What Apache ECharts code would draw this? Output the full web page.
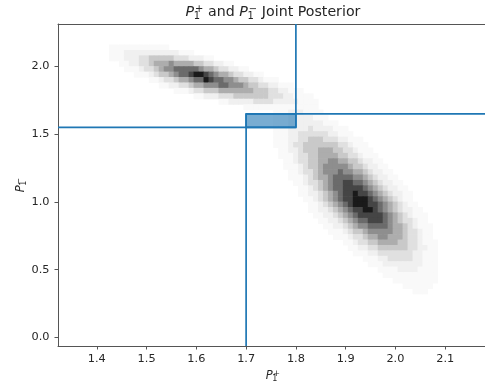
<!DOCTYPE html>
<html><head><meta charset="utf-8">
<script src="https://cdn.jsdelivr.net/npm/echarts@6/dist/echarts.min.js"></script>
<style>html,body{margin:0;padding:0;background:#fff}#c{width:485px;height:390px}</style>
</head><body><div id="c"></div>
<script>
// ---- data ----
const xTicks = [1.4, 1.5, 1.6, 1.7, 1.8, 1.9, 2.0, 2.1];
const yTicks = [0.0, 0.5, 1.0, 1.5, 2.0];
const xRange = [1.322, 2.18];
const yRange = [-0.064, 2.314];
const cutX = [1.7, 1.8];     // vertical cut lines / box x-extent
const cutY = [1.55, 1.65];   // horizontal cut lines / box y-extent
const binW = 0.01, binH = 0.04;
// 2D histogram: each row = bin centre y, first bin centre x, density codes (0..9) per bin
const rowY = [2.14, 2.10, 2.06, 2.02, 1.98, 1.94, 1.90, 1.86, 1.82, 1.78, 1.74, 1.70,
  1.66, 1.62, 1.58, 1.54, 1.50, 1.46, 1.42, 1.38, 1.34, 1.30, 1.26, 1.22, 1.18, 1.14,
  1.10, 1.06, 1.02, 0.98, 0.94, 0.90, 0.86, 0.82, 0.78, 0.74, 0.70, 0.66, 0.62, 0.58,
  0.54, 0.50, 0.46, 0.42, 0.38, 0.34];
const rowX0 = [1.43, 1.43, 1.43, 1.45, 1.46, 1.48, 1.51, 1.53, 1.56, 1.60, 1.65, 1.70,
  1.76, 1.76, 1.76, 1.76, 1.76, 1.76, 1.76, 1.77, 1.77, 1.78, 1.78, 1.79, 1.79, 1.80,
  1.81, 1.81, 1.82, 1.83, 1.83, 1.84, 1.85, 1.86, 1.87, 1.88, 1.90, 1.91, 1.92, 1.94,
  1.95, 1.97, 1.98, 2.00, 2.02, 2.04];
const rowCodes = [
  "111111111111",
  "11122222222222111",
  "111222334444433322211",
  "11223345556555544332211",
  "1112334566777776554332211",
  "11123445677899876554332211",
  "11233455677987766544332111",
  "112233455666776665443322111",
  "11123344455555554443322111",
  "112223334444444333221111",
  "11222223333222221111",
  "111111111111111",
  "1112221111",
  "11122222111",
  "1112222222111",
  "111222232222111",
  "1112233333322111",
  "111223344433322111",
  "1112334444444332111",
  "1122344455544332111",
  "11123344555544332111",
  "11233445566554432211",
  "111234456666654432211",
  "112334566676655432211",
  "1112345567777665432211",
  "1123345677887765432211",
  "1123456778888765432211",
  "11223456788988765432211",
  "1123456788999876543211",
  "1123456789998876543211",
  "11223456788998765432211",
  "11223456788888765432111",
  "1122345677888765433211",
  "1122345667777655432111",
  "111234456666655433211",
  "11123345566555433211",
  "1123344555544332111",
  "112233444444332211",
  "11122333333322111",
  "111223333322111",
  "11122222222111",
  "111122221111",
  "11111111111",
  "111111111",
  "111111",
  "111"
];

// ---- build ----
const cells = [];
rowCodes.forEach((s, r) => {
  for (let i = 0; i < s.length; i++) {
    const c = +s[i];
    if (c > 0) cells.push([+(rowX0[r] + i * binW).toFixed(3), rowY[r], c]);
  }
});
const greys = ['#ffffff', '#f9f9f9', '#f0f0f0', '#e0e0e0', '#c9c9c9', '#adadad', '#8e8e8e', '#6b6b6b', '#454545', '#1a1a1a'];
const blue = '#1f77b4';
const FF = '"DejaVu Sans"';
const txt = '#262626';
const spine = '#555';

const mctx = document.createElement('canvas').getContext('2d');
function tw(t, f) { mctx.font = f; return mctx.measureText(t).width; }
function mathLabel(parts, size, cx, cy, rotation) {
  const sSize = size * 0.7;
  const base = size + 'px ' + FF, ital = 'italic ' + size + 'px ' + FF, sf = sSize + 'px ' + FF;
  let x = 0; const kids = [];
  parts.forEach(p => {
    if (p.sup !== undefined) {
      const w = Math.max(tw(p.sup, sf), tw(p.sub, sf));
      kids.push({ type: 'text', x: x + size * 0.06, y: -size * 0.22, style: { text: p.sup, font: sf, fill: txt, align: 'left', verticalAlign: 'middle' } });
      kids.push({ type: 'text', x: x - size * 0.03, y: size * 0.29, style: { text: p.sub, font: sf, fill: txt, align: 'left', verticalAlign: 'middle' } });
      x += w + size * 0.08;
    } else {
      const f = p.it ? ital : base;
      kids.push({ type: 'text', x: x, y: 0, style: { text: p.t, font: f, fill: txt, align: 'left', verticalAlign: 'middle' } });
      x += tw(p.t, f);
    }
  });
  kids.forEach(k => { k.x -= x / 2; });
  return { type: 'group', x: cx, y: cy, rotation: rotation || 0, children: kids, silent: true };
}

const seg = (a, b) => ({
  type: 'line', data: [a, b], symbol: 'none', silent: true, z: 5,
  lineStyle: { color: blue, width: 1.7 }, clip: true
});

const chart = echarts.init(document.getElementById('c'), null, { renderer: 'canvas' });
chart.setOption({
  animation: false,
  grid: { left: 58, right: 0, top: 24, bottom: 44 },
  xAxis: [{
    type: 'value', min: xRange[0], max: xRange[1],
    splitLine: { show: false }, axisLine: { show: true, onZero: false, lineStyle: { color: spine, width: 1 } },
    axisTick: { show: true, customValues: xTicks, length: 3.5, lineStyle: { color: spine } },
    axisLabel: { customValues: xTicks, formatter: v => v.toFixed(1), color: txt, fontSize: 11.3, fontFamily: FF, margin: 8 }
  }, {
    type: 'value', position: 'top', min: xRange[0], max: xRange[1],
    splitLine: { show: false }, axisLine: { show: true, onZero: false, lineStyle: { color: spine, width: 1 } },
    axisTick: { show: false }, axisLabel: { show: false }
  }],
  yAxis: {
    type: 'value', min: yRange[0], max: yRange[1],
    splitLine: { show: false }, axisLine: { show: true, onZero: false, lineStyle: { color: spine, width: 1 } },
    axisTick: { show: true, customValues: yTicks, length: 3.5, lineStyle: { color: spine } },
    axisLabel: { customValues: yTicks, formatter: v => v.toFixed(1), color: txt, fontSize: 11.3, fontFamily: FF, margin: 8.5 }
  },
  series: [
    {
      type: 'custom', data: cells, silent: true, z: 1,
      encode: { x: 0, y: 1 },
      renderItem: (params, api) => {
        const p1 = api.coord([api.value(0) - binW / 2, api.value(1) + binH / 2]);
        const p2 = api.coord([api.value(0) + binW / 2, api.value(1) - binH / 2]);
        return {
          type: 'rect',
          shape: { x: p1[0] - 0.3, y: p1[1] - 0.3, width: p2[0] - p1[0] + 0.6, height: p2[1] - p1[1] + 0.6 },
          style: { fill: greys[api.value(2)] }
        };
      }
    },
    {
      type: 'custom', data: [[cutX[0], cutY[0], cutX[1], cutY[1]]], silent: true, z: 3,
      renderItem: (params, api) => {
        const p1 = api.coord([api.value(0), api.value(3)]);
        const p2 = api.coord([api.value(2), api.value(1)]);
        return {
          type: 'rect',
          shape: { x: p1[0], y: p1[1], width: p2[0] - p1[0], height: p2[1] - p1[1] },
          style: { fill: 'rgba(31,119,180,0.6)', stroke: blue, lineWidth: 1.7 }
        };
      }
    },
    seg([cutX[0], yRange[0]], [cutX[0], cutY[1]]),
    seg([xRange[0], cutY[0]], [cutX[1], cutY[0]]),
    seg([cutX[1], cutY[0]], [cutX[1], yRange[1]]),
    seg([cutX[0], cutY[1]], [xRange[1], cutY[1]])
  ],
  graphic: [
    mathLabel([{ t: 'P', it: true }, { sup: '+', sub: '1' }, { t: ' and ' }, { t: 'P', it: true }, { sup: '\u2212', sub: '1' }, { t: ' Joint Posterior' }], 14.2, 273, 12.3, 0),
    mathLabel([{ t: 'P', it: true }, { sup: '+', sub: '1' }], 11.5, 273, 376, 0),
    mathLabel([{ t: 'P', it: true }, { sup: '\u2212', sub: '1' }], 11.5, 21, 185, Math.PI / 2)
  ]
});
</script>
</body></html>
